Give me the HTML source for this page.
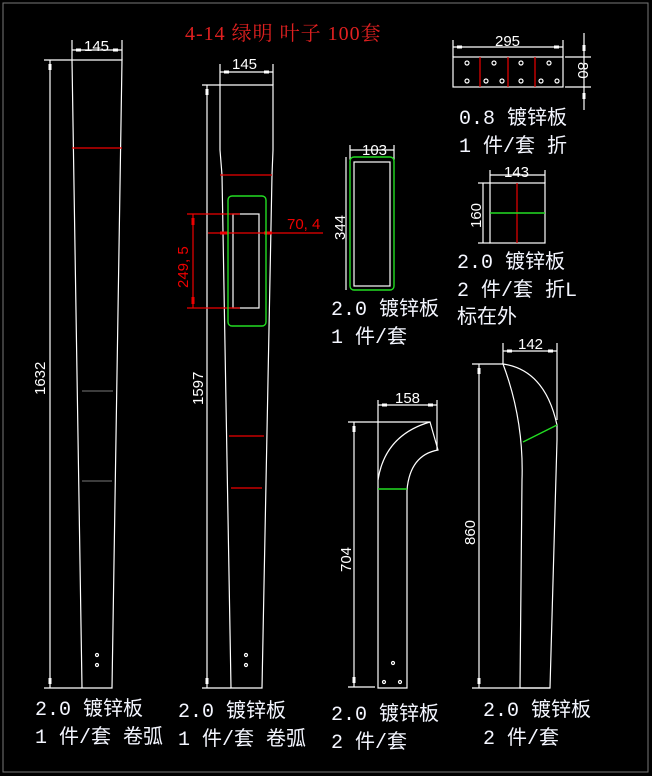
<!DOCTYPE html>
<html><head><meta charset="utf-8"><style>
html,body{margin:0;padding:0;background:#000;width:652px;height:776px;overflow:hidden}
svg{display:block}
text{font-family:"Liberation Sans","Noto Sans CJK SC",sans-serif;fill:#fff}
.c{font-family:"Liberation Mono","Noto Sans CJK SC",monospace;font-size:20px;fill:#f4f6ff}
</style></head><body>
<svg width="652" height="776" viewBox="0 0 652 776" xmlns="http://www.w3.org/2000/svg">
<rect x="3" y="3" width="645" height="769" fill="none" stroke="#777" stroke-width="1"/>
<text x="185" y="40" font-size="20" letter-spacing="1" style="fill:#e02020;font-family:'Liberation Serif','Noto Serif CJK SC',serif">4-14 绿明 叶子 100套</text>
<g stroke="#fff" stroke-width="1.2" fill="none">
<polyline points="72,60 122,60 112,688 82,688 72,60"/>
<line x1="72" y1="40" x2="72" y2="60"/><line x1="122" y1="40" x2="122" y2="60"/><line x1="72" y1="50" x2="122" y2="50"/>
<line x1="44" y1="60" x2="72" y2="60"/><line x1="44" y1="688" x2="82" y2="688"/><line x1="50" y1="60" x2="50" y2="688"/>
<circle cx="97" cy="655" r="1.5"/><circle cx="97" cy="665" r="1.5"/>
<polyline points="220,85 273,85 273,150 272,175 262,688 231,688 222,175 220,150 220,85"/>
<line x1="220" y1="64" x2="220" y2="85"/><line x1="273" y1="64" x2="273" y2="85"/><line x1="220" y1="72" x2="273" y2="72"/>
<line x1="202" y1="85" x2="220" y2="85"/><line x1="202" y1="688" x2="231" y2="688"/><line x1="207" y1="85" x2="207" y2="688"/>
<rect x="233" y="214" width="26" height="94"/>
<circle cx="246" cy="655" r="1.5"/><circle cx="246" cy="665" r="1.5"/>
<rect x="354" y="162" width="36" height="124"/>
<line x1="350" y1="145" x2="350" y2="160"/><line x1="394" y1="145" x2="394" y2="160"/><line x1="350" y1="150" x2="394" y2="150"/>
<line x1="346" y1="157" x2="346" y2="290"/>
<rect x="453" y="57" width="110" height="30"/>
<line x1="453" y1="40" x2="453" y2="57"/><line x1="563" y1="40" x2="563" y2="57"/><line x1="453" y1="47" x2="563" y2="47"/>
<line x1="565" y1="57" x2="591" y2="57"/><line x1="565" y1="87" x2="591" y2="87"/><line x1="584" y1="33" x2="584" y2="110"/>
<circle cx="467" cy="63" r="2"/><circle cx="494" cy="63" r="2"/><circle cx="521" cy="63" r="2"/><circle cx="549" cy="63" r="2"/>
<circle cx="467" cy="81" r="2"/><circle cx="486" cy="81" r="2"/><circle cx="502" cy="81" r="2"/><circle cx="521" cy="81" r="2"/><circle cx="541" cy="81" r="2"/><circle cx="557" cy="81" r="2"/>
<rect x="490" y="183" width="55" height="60"/>
<line x1="490" y1="170" x2="490" y2="183"/><line x1="545" y1="170" x2="545" y2="183"/><line x1="490" y1="175" x2="545" y2="175"/>
<line x1="478" y1="183" x2="490" y2="183"/><line x1="478" y1="243" x2="490" y2="243"/><line x1="483" y1="183" x2="483" y2="243"/>
<path d="M378,480 Q385,435 430,422 L438,450 Q410,455 407,490 L407,688 L378,688 Z"/>
<line x1="378" y1="400" x2="378" y2="480"/><line x1="437" y1="400" x2="437" y2="450"/><line x1="378" y1="405" x2="437" y2="405"/>
<line x1="348" y1="422" x2="430" y2="422"/><line x1="348" y1="687" x2="375" y2="687"/><line x1="354" y1="422" x2="354" y2="687"/>
<circle cx="393" cy="663" r="1.5"/><circle cx="384" cy="682" r="1.5"/><circle cx="400" cy="682" r="1.5"/>
<path d="M503,364 Q545,370 557,425 L557,440 L550,688 L520,688 L522,480 Q524,420 503,364 Z"/>
<line x1="503" y1="343" x2="503" y2="364"/><line x1="557" y1="343" x2="557" y2="420"/><line x1="503" y1="351" x2="557" y2="351"/>
<line x1="472" y1="364" x2="503" y2="364"/><line x1="472" y1="688" x2="550" y2="688"/><line x1="479" y1="364" x2="479" y2="688"/>
</g>
<g fill="#fff">
<rect x="76" y="48.5" width="5" height="3"/><rect x="113" y="48.5" width="5" height="3"/>
<rect x="48.5" y="64" width="3" height="6"/><rect x="48.5" y="678" width="3" height="6"/>
<rect x="224" y="70.5" width="5" height="3"/><rect x="264" y="70.5" width="5" height="3"/>
<rect x="205.5" y="89" width="3" height="6"/><rect x="205.5" y="678" width="3" height="6"/>
<rect x="457" y="45.5" width="5" height="3"/><rect x="554" y="45.5" width="5" height="3"/>
<rect x="582.5" y="45" width="3" height="6"/><rect x="582.5" y="93" width="3" height="6"/>
<rect x="382" y="403.5" width="5" height="3"/><rect x="428" y="403.5" width="5" height="3"/>
<rect x="352.5" y="426" width="3" height="6"/><rect x="352.5" y="677" width="3" height="6"/>
<rect x="507" y="349.5" width="5" height="3"/><rect x="548" y="349.5" width="5" height="3"/>
<rect x="477.5" y="368" width="3" height="6"/><rect x="477.5" y="678" width="3" height="6"/>
</g>
<g stroke="#e00" stroke-width="1.2">
<line x1="72" y1="148" x2="122" y2="148"/>
<line x1="220" y1="175" x2="272" y2="175"/><line x1="229" y1="436" x2="264" y2="436"/><line x1="231" y1="488" x2="262" y2="488"/>
<line x1="187" y1="214" x2="240" y2="214"/><line x1="187" y1="308" x2="240" y2="308"/><line x1="193" y1="214" x2="193" y2="308"/>
<line x1="208" y1="233" x2="323" y2="233"/>
<line x1="480" y1="57" x2="480" y2="87"/><line x1="508" y1="57" x2="508" y2="87"/><line x1="535" y1="57" x2="535" y2="87"/>
<line x1="517" y1="183" x2="517" y2="243"/>
</g>
<g fill="#e00"><rect x="191.5" y="218" width="3" height="7"/><rect x="191.5" y="297" width="3" height="7"/><rect x="220" y="231.5" width="8" height="3"/><rect x="264" y="231.5" width="8" height="3"/></g>
<g stroke="#777"><line x1="82" y1="391" x2="113" y2="391"/><line x1="82" y1="481" x2="112" y2="481"/></g>
<g stroke="#2d2" stroke-width="1.4" fill="none">
<rect x="228" y="196" width="38" height="130" rx="4"/>
<rect x="350" y="157" width="44" height="133" rx="4"/>
<line x1="490" y1="213" x2="545" y2="213"/>
<line x1="378" y1="489" x2="407" y2="489"/>
<line x1="523" y1="442" x2="557" y2="425"/>
</g>
<g font-size="15">
<text x="84" y="51">145</text><text x="232" y="69">145</text><text x="362" y="155">103</text>
<text x="495" y="46">295</text><text x="504" y="177">143</text><text x="395" y="403">158</text><text x="518" y="349">142</text>
<text transform="translate(45,395) rotate(-90)">1632</text>
<text transform="translate(203,405) rotate(-90)">1597</text>
<text transform="translate(345,240) rotate(-90)">344</text>
<text transform="translate(481,228) rotate(-90)">160</text>
<text transform="translate(351,572) rotate(-90)">704</text>
<text transform="translate(475,545) rotate(-90)">860</text>
<text transform="translate(578,62) rotate(90)">80</text>
<text transform="translate(188,288) rotate(-90)" style="fill:#e00">249, 5</text>
<text x="287" y="229" style="fill:#e00">70, 4</text>
</g>
<g>
<text class="c" x="459" y="124">0.8 镀锌板</text><text class="c" x="459" y="152">1 件/套 折</text>
<text class="c" x="457" y="268">2.0 镀锌板</text><text class="c" x="457" y="296">2 件/套 折L</text><text class="c" x="457" y="323">标在外</text>
<text class="c" x="331" y="315">2.0 镀锌板</text><text class="c" x="331" y="343">1 件/套</text>
<text class="c" x="35" y="715">2.0 镀锌板</text><text class="c" x="35" y="743">1 件/套 卷弧</text>
<text class="c" x="178" y="717">2.0 镀锌板</text><text class="c" x="178" y="745">1 件/套 卷弧</text>
<text class="c" x="331" y="720">2.0 镀锌板</text><text class="c" x="331" y="748">2 件/套</text>
<text class="c" x="483" y="716">2.0 镀锌板</text><text class="c" x="483" y="744">2 件/套</text>
</g>
</svg>
</body></html>
